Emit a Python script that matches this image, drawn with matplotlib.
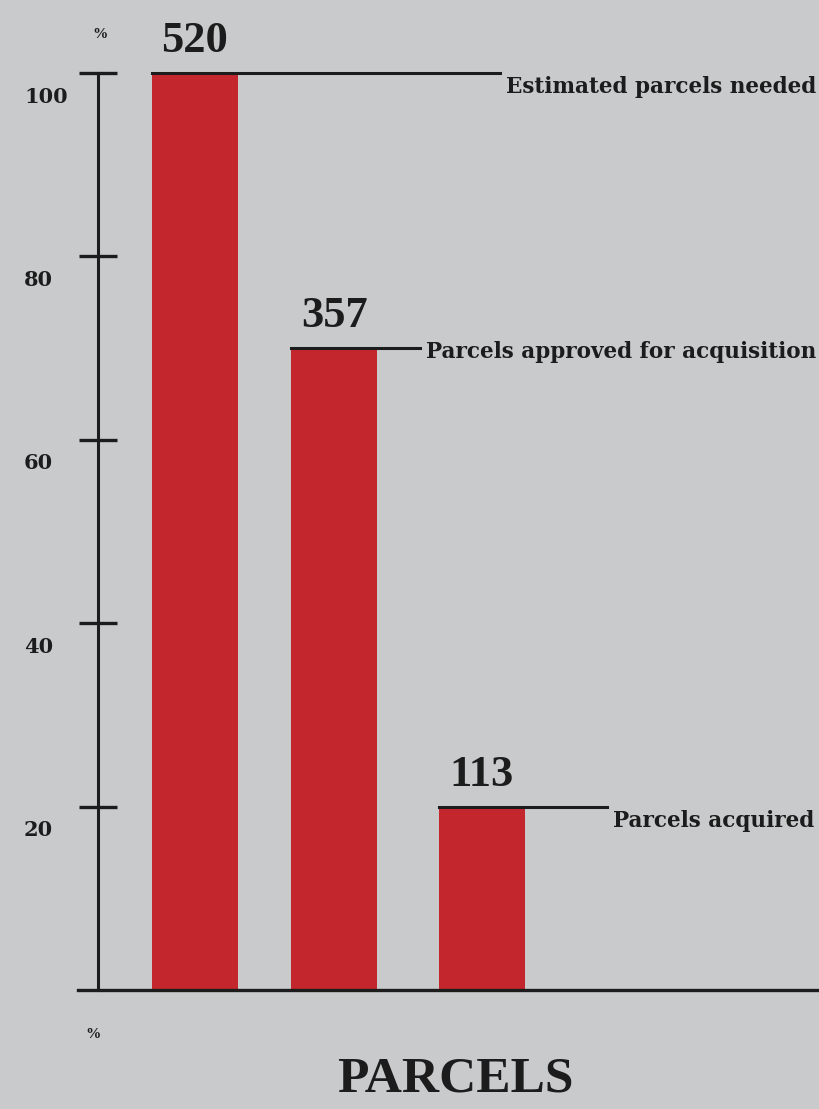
import matplotlib.pyplot as plt

# ------------------------------------------------------------
# Data
# ------------------------------------------------------------
categories = ["Estimated parcels needed", "Parcels approved for acquisition", "Parcels acquired"]
parcel_counts = [520, 357, 113]
percent_heights = [100, 70, 20]
y_ticks = [20, 40, 60, 80, 100]

# ------------------------------------------------------------
# Style / layout
# ------------------------------------------------------------
BG = "#c9cacb"
RED = "#c3262d"
INK = "#1c1c1c"
SERIF = ["Liberation Serif", "DejaVu Serif"]
LABEL_FONT = ["DejaVu Serif"]

W, H = 820, 1109
fig = plt.figure(figsize=(W / 100, H / 100), dpi=100, facecolor=BG)

# axes spans full width, y: 0 at pixel 990, 100 at pixel 73
ax = fig.add_axes([0, (H - 990) / H, 1, (990 - 73) / H])
ax.set_facecolor(BG)
ax.set_ylim(0, 100)
px = 143.5  # pixels per x unit
ax.set_xlim(-195 / px, (W - 195) / px)

def xd(p):
    return (p - 195) / px

x = [0, 0.97, 2]
bars = ax.bar(x, percent_heights, width=0.6, color=RED, zorder=2)

# axis line with ticks
for s in ["top", "right", "bottom"]:
    ax.spines[s].set_visible(False)
ax.spines["left"].set_position(("data", xd(98)))
ax.spines["left"].set_linewidth(2.2)
ax.spines["left"].set_color(INK)
ax.set_yticks(y_ticks)
ax.set_yticklabels([])
ax.tick_params(axis="y", direction="inout", length=28, width=2.4, color=INK)
ax.set_xticks([])

for t in y_ticks:
    ax.annotate(
        str(t), xy=(24 / W, t), xycoords=ax.get_yaxis_transform(),
        xytext=(0, -17), textcoords="offset points",
        ha="left", va="center", fontsize=15, fontweight="bold",
        family=LABEL_FONT, color=INK,
    )

# baseline
ax.plot([xd(78), xd(820)], [0, 0], color=INK, lw=2.4, clip_on=False, zorder=3)

# leader lines, counts and labels
line_ends = [500, 420, 607]
text_drop = [20, 10, 20]
for bar, count, label, end, drop in zip(bars, parcel_counts, categories, line_ends, text_drop):
    top = bar.get_height()
    ax.plot([bar.get_x(), xd(end)], [top, top], color=INK, lw=2.2, clip_on=False, zorder=3)
    ax.annotate(
        str(count), xy=(bar.get_x() + bar.get_width() / 2, top),
        xytext=(0, 15), textcoords="offset points",
        ha="center", va="baseline", fontsize=32, fontweight="bold",
        family=SERIF, color=INK, annotation_clip=False,
    )
    ax.annotate(
        label, xy=(xd(end), top),
        xytext=(4, -drop * 0.72), textcoords="offset points",
        ha="left", va="baseline", fontsize=15.5, fontweight="bold",
        family=LABEL_FONT, color=INK, annotation_clip=False,
    )

fig.text(100 / W, 1 - 35 / H, "%", ha="center", va="center",
         fontsize=11, fontweight="bold", family=SERIF, color=INK)
fig.text(93 / W, 1 - 1035 / H, "%", ha="center", va="center",
         fontsize=11, fontweight="bold", family=SERIF, color=INK)
fig.text(455 / W, 1 - 1080 / H, "PARCELS", ha="center", va="center",
         fontsize=37, fontweight="bold", family=SERIF, color=INK)

fig.savefig("out.png", dpi=100, facecolor=BG)
